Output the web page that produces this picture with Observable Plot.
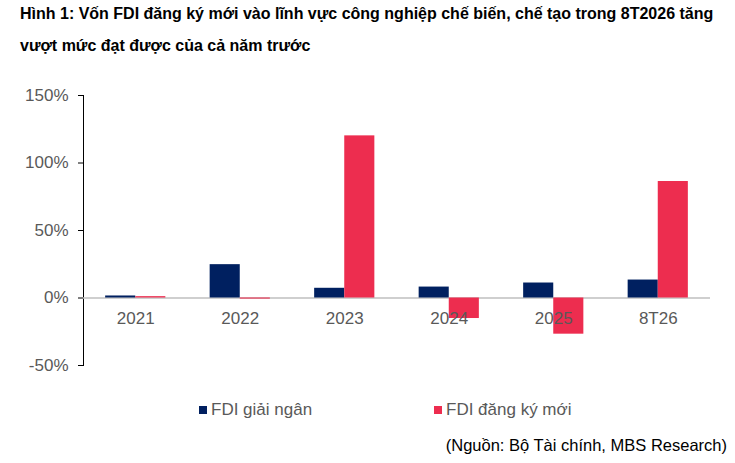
<!DOCTYPE html>
<html>
<head>
<meta charset="utf-8">
<script src="https://cdn.jsdelivr.net/npm/d3@7"></script>
<script src="https://cdn.jsdelivr.net/npm/@observablehq/plot@0.6"></script>
<style>
  html, body { margin: 0; padding: 0; background: #fff; }
  body { width: 735px; height: 463px; position: relative; overflow: hidden; font-family: "Liberation Sans", Arial, sans-serif; }
  #title { position: absolute; left: 20px; top: -2px; width: 715px; font-weight: bold; font-size: 16px; line-height: 32px; color: #000; white-space: nowrap; }
  #chart { position: absolute; left: 0; top: 70px; }
  #chart svg text { fill: #595959; }
  .leg { position: absolute; top: 400px; font-size: 17px; color: #595959; line-height: 20px; white-space: nowrap; }
  .sw { display: inline-block; width: 8px; height: 8px; margin-right: 4px; vertical-align: 1px; }
  #source { position: absolute; right: 8px; top: 436px; font-size: 16.5px; color: #000; white-space: nowrap; }
</style>
</head>
<body>
<div id="title">Hình 1: Vốn FDI đăng ký mới vào lĩnh vực công nghiệp chế biến, chế tạo trong 8T2026 tăng<br>vượt mức đạt được của cả năm trước</div>
<div id="chart"></div>
<div class="leg" style="left:199px"><span class="sw" style="background:#002060"></span>FDI giải ngân</div>
<div class="leg" style="left:434px"><span class="sw" style="background:#ED2D4F"></span>FDI đăng ký mới</div>
<div id="source">(Nguồn: Bộ Tài chính, MBS Research)</div>
<script>
const years = ["2021", "2022", "2023", "2024", "2025", "8T26"];
const disbursed = [1.5, 24.7, 7.2, 8.1, 11.1, 13.3];
const registered = [1.0, -0.8, 120.1, -15.2, -26.8, 86.3];
const yTicks = [-50, 0, 50, 100, 150];

const table = years.map((year, i) => ({year, disbursed: disbursed[i], registered: registered[i]}));

const width = 735, marginLeft = 83, marginRight = 25;
const pInner = 0.424, pOuter = 0.212;
const step = (width - marginLeft - marginRight) / (years.length - pInner + 2 * pOuter);
const half = step * (1 - pInner) / 2;

const chart = Plot.plot({
  width,
  height: 320,
  marginTop: 25,
  marginBottom: 25,
  marginLeft,
  marginRight,
  style: {fontFamily: "Liberation Sans, Arial, sans-serif", fontSize: "17px", color: "#000", background: "#fff"},
  x: {type: "band", domain: years, paddingInner: pInner, paddingOuter: pOuter, round: false, axis: null},
  y: {domain: [-50, 150], ticks: yTicks, tickFormat: d => `${d}%`, tickSize: 5, tickPadding: 10, line: true, label: null},
  marks: [
    Plot.ruleY([0], {stroke: "#BFBFBF", strokeWidth: 1.3}),
    Plot.barY(table, {x: "year", y: "disbursed", fill: "#002060", insetRight: half, insetLeft: 0}),
    Plot.barY(table, {x: "year", y: "registered", fill: "#ED2D4F", insetLeft: half, insetRight: 0}),
    Plot.text(years, {x: d => d, y: () => 0, text: d => d, dy: 21, fontSize: 17, fill: "#595959"})
  ]
});
document.getElementById("chart").appendChild(chart);
</script>
</body>
</html>
